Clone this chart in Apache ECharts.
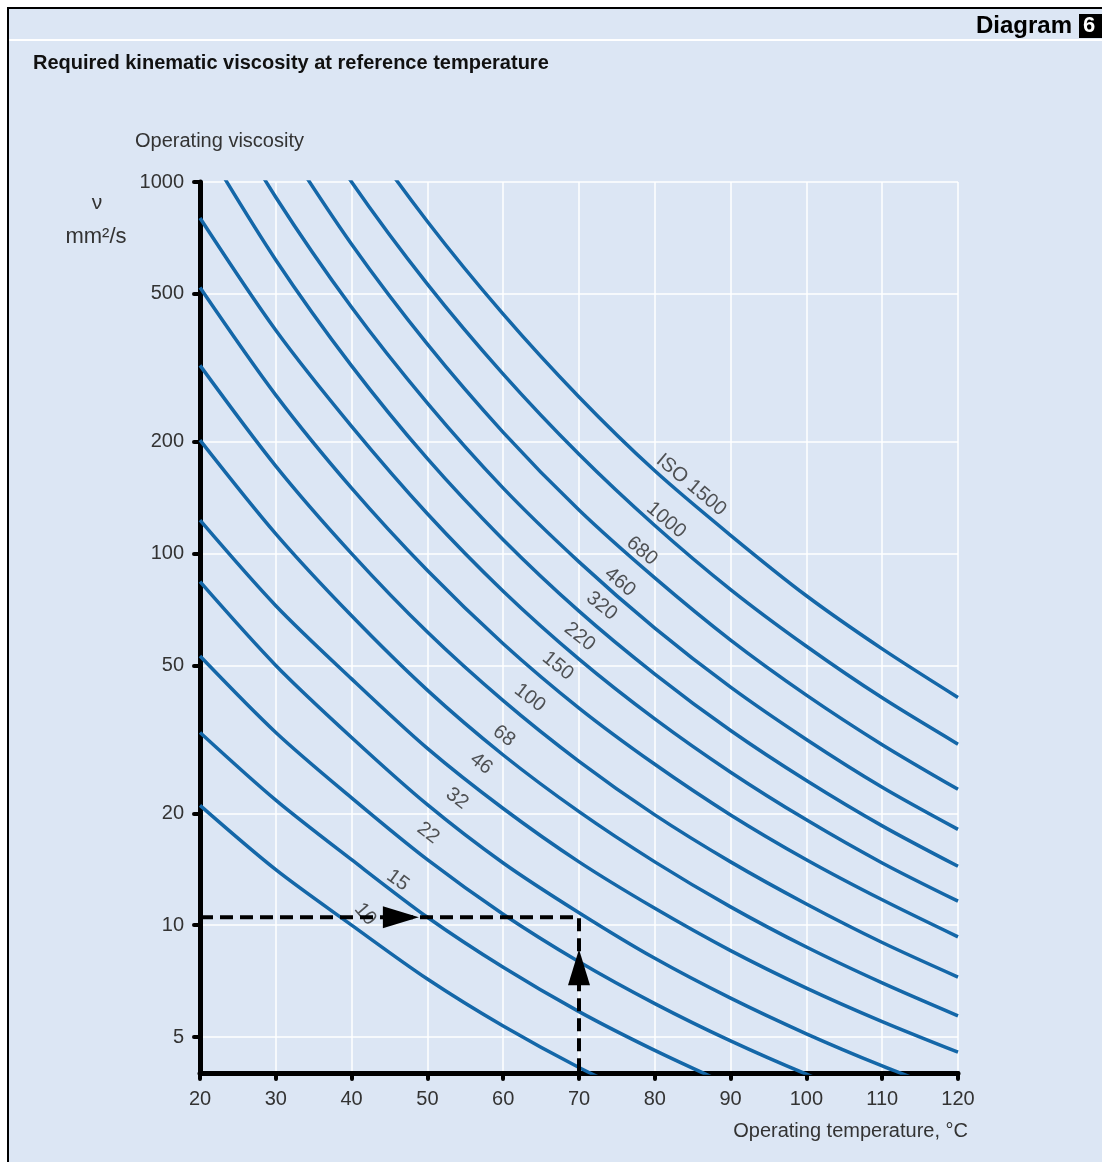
<!DOCTYPE html>
<html>
<head>
<meta charset="utf-8">
<script src="https://cdn.jsdelivr.net/npm/echarts@6/dist/echarts.min.js"></script>
<style>
html,body{margin:0;padding:0;background:#fff;}
#frame{position:absolute;left:7px;top:7px;right:0;bottom:0;border-left:2px solid #000;border-top:2px solid #000;background:#dce6f4;}
#sep{position:absolute;left:9px;top:39px;right:0;height:2px;background:#fff;}
#c{position:absolute;left:0;top:0;width:1102px;height:1162px;}
</style>
</head>
<body>
<div id="frame"></div>
<div id="sep"></div>
<div id="c"></div>
<script>
// ---- data (temperature °C -> kinematic viscosity mm²/s) ----
const temps = [20, 30, 40, 50, 60, 70, 80, 90, 100, 110, 120];
const iso1500 = [null, 3141, 1500, 783, 441, 264, 167, 112, 77, 55.4, 41];
const iso1000 = [null, 2058, 1000, 531, 304, 185, 119, 80, 56.3, 40.9, 30.7];
const iso680  = [null, 1379, 680, 366, 212, 131, 86, 58.5, 41.6, 30.6, 23.2];
const iso460  = [1993, 910, 460, 254, 150, 95, 63, 43.7, 31.6, 23.5, 18.1];
const iso320  = [1316, 617, 320, 180, 109, 70, 47.4, 33.4, 24.5, 18.5, 14.4];
const iso220  = [800, 399, 220, 128, 79.2, 52, 35.9, 25.8, 19.2, 14.7, 11.6];
const iso150  = [520, 267, 150, 90, 57.2, 38.4, 27.1, 19.8, 15, 11.7, 9.3];
const iso100  = [321, 172, 100, 61.5, 40.2, 27.6, 19.8, 14.8, 11.4, 8.98, 7.25];
const iso68   = [202, 113, 68, 42.9, 28.7, 20.2, 14.8, 11.2, 8.73, 6.99, 5.7];
const iso46   = [123, 72.4, 46, 29.9, 20.6, 14.8, 11.1, 8.54, 6.77, 5.5, 4.55];
const iso32   = [84, 50, 32, 21.1, 14.7, 10.8, 8.14, 6.36, 5.1, 4.18, 3.49];
const iso22   = [53, 33, 22, 15, 10.7, 7.97, 6.15, 4.88, 3.97, 3.3, null];
const iso15   = [33, 21.7, 15, 10.5, 7.7, 5.85, 4.6, 3.7, null, null, null];
const iso10   = [21, 14.1, 10, 7.16, 5.35, 4.14, 3.31, null, null, null, null];

const curves = [iso1500, iso1000, iso680, iso460, iso320, iso220, iso150, iso100, iso68, iso46, iso32, iso22, iso15, iso10];

// curve labels (name, temperature, viscosity, rotation)
const labelNames = ['ISO 1500', '1000', '680', '460', '320', '220', '150', '100', '68', '46', '32', '22', '15', '10'];
const labelT     = [84.8, 81.5, 78.3, 75.4, 73.0, 70.1, 67.2, 63.5, 60.1, 57.1, 53.9, 50.1, 46.1, 41.8];
const labelV     = [153, 123, 101.6, 83.8, 72.3, 59.7, 49.8, 40.9, 32.3, 27.2, 21.9, 17.7, 13.2, 10.7];
const labelRot   = [-40, -40, -40, -40, -39, -39, -39, -38, -38, -38, -37, -37, -36, -50];

// example reading (dashed path) and arrow heads
const exampleT = [20, 70, 70];
const exampleV = [10.5, 10.5, 4];
const arrowT = [46.5, 70];
const arrowV = [10.5, 7.7];
const arrowRot = [-90, 0];

// axis ticks
const yTicks = [5, 10, 20, 50, 100, 200, 500, 1000];
const xMin = 20, xMax = 120, xStep = 10;
const yMin = 4, yMax = 1000;

// ---- chart ----
const FONT = '"Liberation Sans", Arial, Helvetica, sans-serif';
const CURVE = '#1467a8';
const chart = echarts.init(document.getElementById('c'), null, {renderer: 'canvas'});

const series = curves.map((vals, i) => ({
  type: 'line',
  name: labelNames[i],
  data: temps.map((t, k) => [t, vals[k]]).filter(p => p[1] != null),
  showSymbol: false,
  smooth: 0.3,
  clip: true,
  silent: true,
  z: 3,
  lineStyle: {color: CURVE, width: 3.5}
}));

series.push({
  type: 'scatter',
  silent: true,
  z: 2,
  symbolSize: 1,
  itemStyle: {color: 'rgba(0,0,0,0)'},
  label: {show: true, position: 'inside', formatter: p => p.name, fontSize: 20, color: '#2a2a2a', fontFamily: FONT},
  data: labelNames.map((n, i) => ({name: n, value: [labelT[i], labelV[i]], label: {rotate: labelRot[i]}}))
});

series.push({
  type: 'line',
  silent: true,
  z: 5,
  showSymbol: false,
  clip: false,
  data: exampleT.map((t, i) => [t, exampleV[i]]),
  lineStyle: {color: '#000', width: 4, type: [13, 7]}
});

series.push({
  type: 'scatter',
  silent: true,
  z: 6,
  symbol: 'triangle',
  symbolSize: [22, 36],
  itemStyle: {color: '#000', opacity: 1},
  data: arrowT.map((t, i) => ({value: [t, arrowV[i]], symbolRotate: arrowRot[i]}))
});

chart.setOption({
  animation: false,
  backgroundColor: 'transparent',
  grid: {left: 200, right: 144, top: 182, bottom: 89, containLabel: false, outerBoundsMode: 'none'},
  xAxis: {
    type: 'value', min: xMin, max: xMax, interval: xStep,
    axisLine: {onZero: false, lineStyle: {color: '#000', width: 5, cap: 'round'}},
    axisTick: {show: true, length: 6, lineStyle: {color: '#000', width: 4, cap: 'round'}},
    axisLabel: {margin: 16, fontSize: 20, color: '#333', fontFamily: FONT, formatter: v => String(v)},
    splitLine: {show: true, lineStyle: {color: '#fff', width: 1.5}}
  },
  yAxis: {
    type: 'log', logBase: 10, min: yMin, max: yMax,
    axisLine: {show: true, onZero: false, lineStyle: {color: '#000', width: 5, cap: 'round'}},
    axisTick: {show: true, customValues: yTicks, length: 6, lineStyle: {color: '#000', width: 4, cap: 'round'}},
    axisLabel: {customValues: yTicks, margin: 16, fontSize: 20, color: '#333', fontFamily: FONT, formatter: v => String(Math.round(v))},
    splitLine: {show: true, lineStyle: {color: '#fff', width: 1.5}}
  },
  graphic: [
    {type: 'text', style: {text: 'Diagram', x: 1072, y: 26, align: 'right', textAlign: 'right', verticalAlign: 'middle', textVerticalAlign: 'middle', font: 'bold 24px ' + FONT, fill: '#000'}},
    {type: 'rect', shape: {x: 1079, y: 14, width: 24, height: 24}, style: {fill: '#000'}},
    {type: 'text', style: {text: '6', x: 1089, y: 26, align: 'center', textAlign: 'center', verticalAlign: 'middle', textVerticalAlign: 'middle', font: 'bold 22px ' + FONT, fill: '#fff'}},
    {type: 'text', style: {text: 'Required kinematic viscosity at reference temperature', x: 33, y: 63, align: 'left', textAlign: 'left', verticalAlign: 'middle', textVerticalAlign: 'middle', font: 'bold 20px ' + FONT, fill: '#111'}},
    {type: 'text', style: {text: 'Operating viscosity', x: 135, y: 141, align: 'left', textAlign: 'left', verticalAlign: 'middle', textVerticalAlign: 'middle', font: '20px ' + FONT, fill: '#333'}},
    {type: 'text', style: {text: 'ν', x: 97, y: 203, align: 'center', textAlign: 'center', verticalAlign: 'middle', textVerticalAlign: 'middle', font: '21px ' + FONT, fill: '#333'}},
    {type: 'text', style: {text: 'mm²/s', x: 96, y: 237, align: 'center', textAlign: 'center', verticalAlign: 'middle', textVerticalAlign: 'middle', font: '22px ' + FONT, fill: '#333'}},
    {type: 'text', style: {text: 'Operating temperature, °C', x: 968, y: 1131, align: 'right', textAlign: 'right', verticalAlign: 'middle', textVerticalAlign: 'middle', font: '20px ' + FONT, fill: '#333'}}
  ],
  series: series
});
</script>
</body>
</html>
